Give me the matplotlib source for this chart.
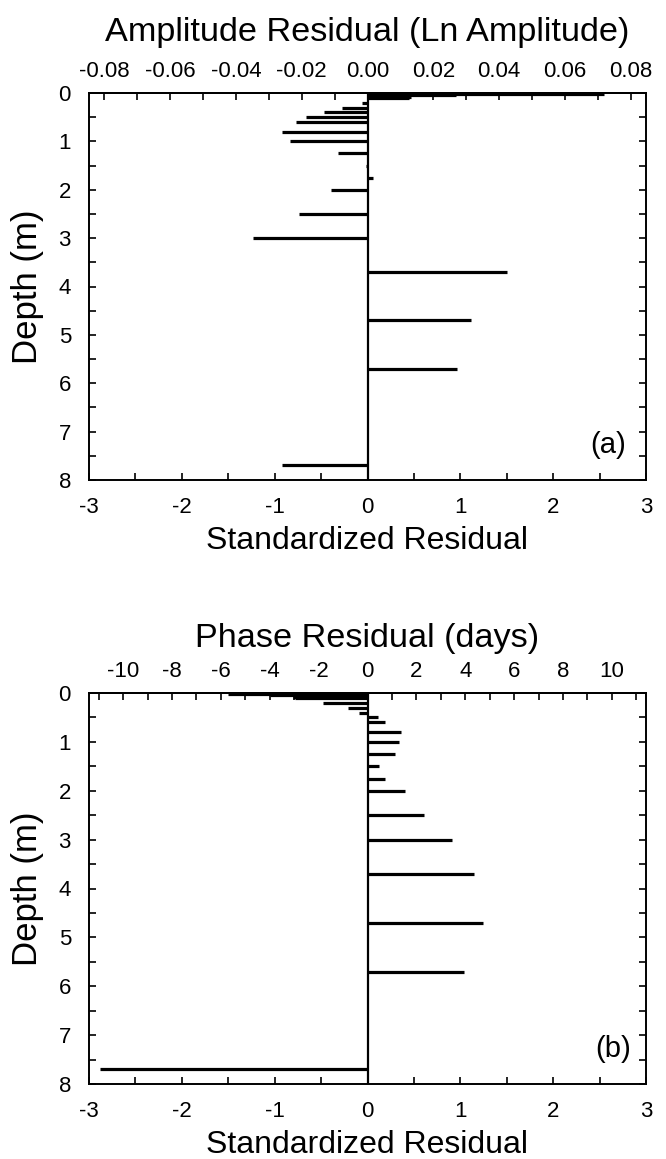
import matplotlib
matplotlib.use("Agg")
import matplotlib.pyplot as plt
from matplotlib.ticker import MultipleLocator, FixedLocator, NullFormatter

plt.rcParams['font.family'] = ['Liberation Sans', 'DejaVu Sans']
plt.rcParams['axes.unicode_minus'] = False

# ---- data ----
depths = [0.02, 0.05, 0.08, 0.11, 0.2, 0.3, 0.4, 0.5, 0.6, 0.8, 1.0, 1.25,
          1.5, 1.75, 2.0, 2.5, 3.0, 3.7, 4.7, 5.7, 7.7]
resid_amp = [2.55, 0.95, 0.47, 0.45, -0.06, -0.27, -0.47, -0.66, -0.77, -0.92,
             -0.84, -0.32, -0.02, 0.06, -0.39, -0.74, -1.23, 1.50, 1.12, 0.96, -0.92]
resid_phase = [-1.5, -1.05, -0.8, -0.78, -0.48, -0.21, -0.09, 0.11, 0.19, 0.36,
               0.34, 0.30, 0.12, 0.19, 0.40, 0.61, 0.91, 1.15, 1.24, 1.04, -2.88]

sigma_amp = 0.0282     # ln amplitude per standardized unit
sigma_phase = 3.8      # days per standardized unit

amp_major = [-0.08, -0.06, -0.04, -0.02, 0.0, 0.02, 0.04, 0.06, 0.08]
amp_labels = ['-0.08', '-0.06', '-0.04', '-0.02', '0.00', '0.02', '0.04', '0.06', '0.08']
amp_minor = [-0.07, -0.05, -0.03, -0.01, 0.01, 0.03, 0.05, 0.07]
phase_major = [-10, -8, -6, -4, -2, 0, 2, 4, 6, 8, 10]
phase_minor = [-11, -9, -7, -5, -3, -1, 1, 3, 5, 7, 9, 11]

TICKSIZE = 16

W, H = 666, 1159
fig = plt.figure(figsize=(W / 100, H / 100), dpi=100)

L = 89 / W
Wd = 557 / W
ax_a = fig.add_axes([L, 1 - 480 / H, Wd, 387 / H])
ax_b = fig.add_axes([L, 1 - 1084 / H, Wd, 391 / H])


def setup(ax, resid, sigma, major, labels, minor, top_title, title_pad, tag, tag_x):
    ax.hlines(depths, 0, resid, colors='black', linewidth=2.3)
    ax.axvline(0, color='black', linewidth=1.6)
    ax.set_xlim(-3, 3)
    ax.set_ylim(8, 0)
    ax.xaxis.set_major_locator(MultipleLocator(1))
    ax.xaxis.set_minor_locator(MultipleLocator(0.5))
    ax.yaxis.set_major_locator(MultipleLocator(1))
    ax.yaxis.set_minor_locator(MultipleLocator(0.5))
    ax.tick_params(axis='both', which='both', direction='in', length=5, width=1.2,
                   labelsize=TICKSIZE)
    ax.tick_params(axis='y', which='both', left=True, right=True, pad=13)
    ax.tick_params(axis='x', which='both', bottom=True, top=False, pad=12)
    for s in ax.spines.values():
        s.set_linewidth(1.4)
    ax.set_xlabel('Standardized Residual', fontsize=23, labelpad=6)
    ax.set_ylabel('Depth (m)', fontsize=25)
    ax.yaxis.set_label_coords(-0.08, 0.5)
    sec = ax.secondary_xaxis('top', functions=(lambda x: x * sigma, lambda x: x / sigma))
    sec.xaxis.set_major_locator(FixedLocator(major))
    if labels is not None:
        sec.set_xticklabels(labels)
    sec.xaxis.set_minor_locator(FixedLocator(minor))
    sec.xaxis.set_minor_formatter(NullFormatter())
    sec.tick_params(axis='x', which='both', direction='in', length=5, width=1.2,
                    labelsize=TICKSIZE, pad=8)
    sec.spines['top'].set_linewidth(1.4)
    sec.set_xlabel(top_title, fontsize=24.7, labelpad=title_pad)
    ax.text(tag_x, 7.28, tag, fontsize=21, ha='right', va='center')


setup(ax_a, resid_amp, sigma_amp, amp_major, amp_labels, amp_minor,
      'Amplitude Residual (Ln Amplitude)', 14, '(a)', 2.78)
setup(ax_b, resid_phase, sigma_phase, phase_major, None, phase_minor,
      'Phase Residual (days)', 10, '(b)', 2.84)

fig.savefig('out.png', dpi=100)
